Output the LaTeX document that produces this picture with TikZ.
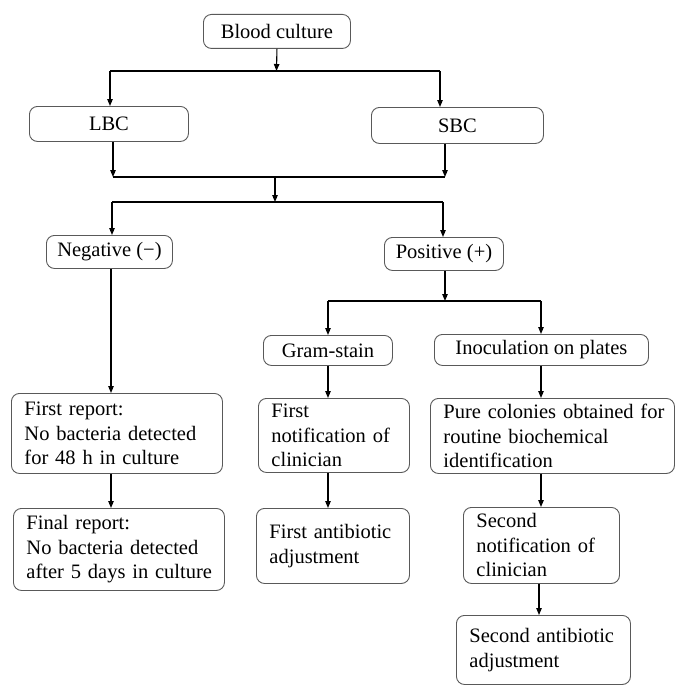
\documentclass[tikz,border=0pt]{standalone}
\usepackage{fontspec}
\setmainfont{Liberation Serif}
\usetikzlibrary{arrows.meta}
\begin{document}
\begin{tikzpicture}[x=1pt,y=-1pt,
  box/.style={draw=black!65, line width=0.9pt, rounded corners=8pt, inner sep=0pt,
    anchor=north west, font=\fontsize{20.5}{24.5}\selectfont},
  lbox/.style={box, align=left, inner xsep=13pt},
  conn/.style={line width=1.1pt, black},
  arr/.style={conn, -{Triangle[length=7pt,width=5.5pt]}}]
\useasboundingbox (0,0) rectangle (675,685);
% boxes
\node[box, minimum width=147pt, minimum height=34pt] (blood) at (203,14) {Blood culture};
\node[box, minimum width=159pt, minimum height=35pt] (lbc) at (29,106) {LBC};
\node[box, minimum width=172pt, minimum height=36pt] (sbc) at (371,107) {SBC};
\node[box, minimum width=126pt, minimum height=33pt] (neg) at (46,235) {Negative (−)};
\node[box, minimum width=119pt, minimum height=33pt] (pos) at (384,237) {Positive (+)};
\node[box, minimum width=129pt, minimum height=30pt] (gram) at (263,335) {Gram-stain};
\node[box, minimum width=214pt, minimum height=31pt] (inoc) at (434,334) {Inoculation on plates};
\node[lbox, text width=185pt, minimum height=80pt] (frep) at (11,393)
  {\mbox{First report:}\\\mbox{No bacteria detected}\\\mbox{for 48 h in culture}};
\node[lbox, text width=125pt, minimum height=74pt] (fnot) at (258,398)
  {\mbox{First}\\\mbox{notification of}\\\mbox{clinician}};
\node[lbox, text width=218pt, minimum height=75pt] (pure) at (430,398)
  {\mbox{Pure colonies obtained for}\\\mbox{routine biochemical}\\\mbox{identification}};
\node[lbox, text width=185pt, minimum height=82pt] (finrep) at (13,508)
  {\mbox{Final report:}\\\mbox{No bacteria detected}\\\mbox{after 5 days in culture}};
\node[lbox, text width=127pt, minimum height=75pt] (fanti) at (256,508)
  {\mbox{First antibiotic}\\\mbox{adjustment}};
\node[lbox, text width=130pt, minimum height=76pt] (snot) at (463,507)
  {\mbox{Second}\\\mbox{notification of}\\\mbox{clinician}};
\node[lbox, text width=148pt, minimum height=69pt] (santi) at (456,615)
  {\mbox{Second antibiotic}\\\mbox{adjustment}};
% junction coordinates
\coordinate (h1L) at (110,71);
\coordinate (h1R) at (440,71);
\coordinate (h1C) at (276.5,71);
\coordinate (h2L) at (113,177);
\coordinate (h2R) at (445,177);
\coordinate (h2C) at (275,177);
\coordinate (h3L) at (112,202);
\coordinate (h3R) at (443,202);
\coordinate (h3C) at (275,202);
\coordinate (h4L) at (328,301);
\coordinate (h4R) at (541,301);
\coordinate (h4C) at (445,301);
\coordinate (n1) at (111,300);
\coordinate (s2) at (539,600);
% connectors
\draw[arr] (blood.south) -- (h1C);
\draw[conn] (h1L) -- (h1R);
\draw[arr] (h1L) -- (h1L |- lbc.north);
\draw[arr] (h1R) -- (h1R |- sbc.north);
\draw[arr] (h2L |- lbc.south) -- (h2L);
\draw[arr] (h2R |- sbc.south) -- (h2R);
\draw[conn] (h2L) -- (h2R);
\draw[arr] (h2C) -- (h3C);
\draw[conn] (h3L) -- (h3R);
\draw[arr] (h3L) -- (h3L |- neg.north);
\draw[arr] (h3R) -- (h3R |- pos.north);
\draw[arr] (h4C |- pos.south) -- (h4C);
\draw[conn] (h4L) -- (h4R);
\draw[arr] (h4L) -- (h4L |- gram.north);
\draw[arr] (h4R) -- (h4R |- inoc.north);
\draw[arr] (n1 |- neg.south) -- (n1 |- frep.north);
\draw[arr] (h4L |- gram.south) -- (h4L |- fnot.north);
\draw[arr] (h4R |- inoc.south) -- (h4R |- pure.north);
\draw[arr] (n1 |- frep.south) -- (n1 |- finrep.north);
\draw[arr] (h4L |- fnot.south) -- (h4L |- fanti.north);
\draw[arr] (h4R |- pure.south) -- (h4R |- snot.north);
\draw[arr] (s2 |- snot.south) -- (s2 |- santi.north);
\end{tikzpicture}
\end{document}
